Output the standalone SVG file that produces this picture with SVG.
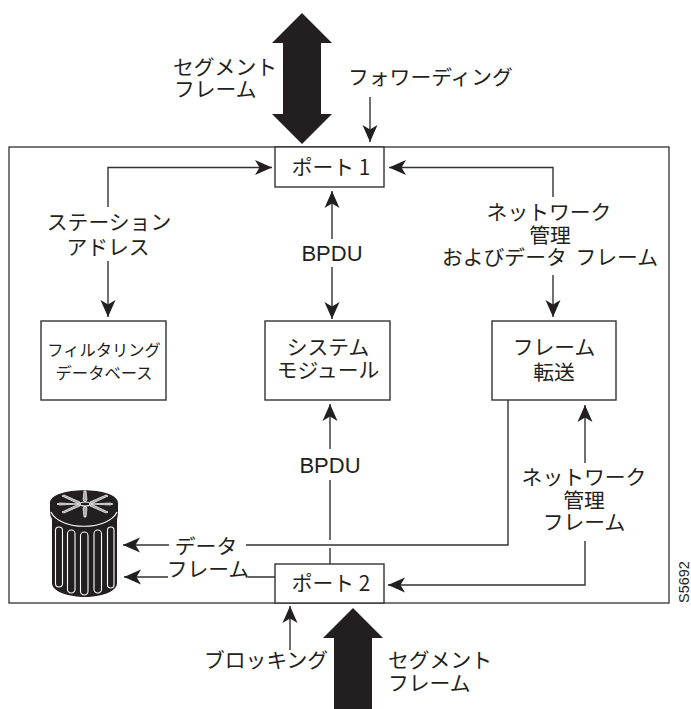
<svg xmlns="http://www.w3.org/2000/svg" width="691" height="709" viewBox="0 0 691 709">
<style>
text{font-family:"Noto Sans CJK JP","Liberation Sans",sans-serif;font-size:20.800px;fill:#231f20;text-anchor:middle}
.l{text-anchor:start}
.s{font-family:"Liberation Sans",sans-serif;font-size:22px}
.m{font-size:16.300px}
.b{fill:#fff;stroke:#333;stroke-width:1.400}
.c{fill:none;stroke:#333;stroke-width:1.400}
.w{fill:none;stroke:#fff;stroke-width:1.100}
.sp{fill:#aaa;stroke:#fff;stroke-width:.7}
.f{fill:#231f20}
</style>
<defs>
<marker id="a" markerUnits="userSpaceOnUse" markerWidth="18" markerHeight="16" refX="17" refY="8" orient="auto"><path d="M0 .5L17 8L0 15.500L4.500 8Z" fill="#231f20"/></marker>
</defs>
<rect id="frame" x="9" y="147" width="660" height="456" fill="none" stroke="#231f20" stroke-width="1.200"/>
<g id="connectors">
<path class="c" d="M370 97V142" marker-end="url(#a)"/>
<path class="c" d="M108 207V167.500H272" marker-end="url(#a)"/>
<path class="c" d="M108 261V317" marker-end="url(#a)"/>
<path class="c" d="M332 239V191" marker-end="url(#a)"/>
<path class="c" d="M332 267V319" marker-end="url(#a)"/>
<path class="c" d="M553 197V167.500H389" marker-end="url(#a)"/>
<path class="c" d="M553 275V317" marker-end="url(#a)"/>
<path class="c" d="M330 449V404" marker-end="url(#a)"/>
<path class="c" d="M330 480V540M330 548V564"/>
<path class="c" d="M508 400V545H246"/>
<path class="c" d="M169 545H123" marker-end="url(#a)"/>
<path class="c" d="M585 463V405" marker-end="url(#a)"/>
<path class="c" d="M585 541V585H388" marker-end="url(#a)"/>
<path class="c" d="M275 577H248M168 577H124" marker-end="url(#a)"/>
<path class="c" d="M290 650V606" marker-end="url(#a)"/>
</g>
<g id="seg-top"><path class="f" d="M302 13L332 43H321V114H332L302 144L272 114H283V43H272Z"/><text x="173" y="75" class="l">セグメント</text><text x="174" y="97" class="l">フレーム</text></g>
<text id="fwd" x="348" y="85" class="l">フォワーディング</text>
<g id="port1"><rect class="b" x="275" y="147" width="109" height="40"/><text x="331" y="175">ポート 1</text></g>
<g id="station"><text x="109" y="230">ステーション</text><text x="108" y="255">アドレス</text></g>
<text id="bpdu1" class="s" x="332" y="261">BPDU</text>
<g id="nm1"><text x="549" y="220">ネットワーク</text><text x="550" y="243">管理</text><text x="550" y="265" word-spacing="4">およびデータ フレーム</text></g>
<g id="filter"><rect class="b" x="41" y="321" width="125" height="79"/><text class="m" x="104" y="356">フィルタリング</text><text class="m" x="104" y="379">データベース</text></g>
<g id="system"><rect class="b" x="265" y="321" width="125" height="79"/><text x="328" y="355">システム</text><text x="328" y="378">モジュール</text></g>
<g id="forward"><rect class="b" x="492" y="321" width="124" height="79"/><text x="554" y="355">フレーム</text><text x="554" y="380">転送</text></g>
<text id="bpdu2" class="s" x="330" y="473">BPDU</text>
<g id="nm2"><text x="584" y="485">ネットワーク</text><text x="584" y="508">管理</text><text x="584" y="530">フレーム</text></g>
<g id="trash">
<path class="f" d="M50 503C50 486 118 486 118 503V511Q118 516 117 519V583C117 592 100 597 85 597C70 597 52 592 52 583V519Q50 516 50 511Z"/>
<path class="w" d="M51 512C60 531 108 531 117 512"/>
<path class="sp" d="M84 491L86 491L87 500L85 502L83 500ZM84 517L86 517L87 508L85 506L83 508ZM62 496L64 495L80 502L79 504ZM108 496L106 495L90 502L91 504ZM62 512L64 513L80 506L79 504ZM108 512L106 513L90 506L91 504ZM57 504L60 503L78 504L60 505ZM113 504L110 503L92 504L110 505Z"/>
<ellipse class="w" cx="85" cy="504" rx="5" ry="2"/>
<rect class="w" x="55.500" y="527" width="7" height="60" rx="3.500"/>
<rect class="w" x="67.500" y="530" width="7.500" height="63" rx="3.700"/>
<rect class="w" x="80.500" y="532" width="7.500" height="63" rx="3.700"/>
<rect class="w" x="94" y="530" width="7.500" height="63" rx="3.700"/>
<rect class="w" x="107.500" y="527" width="6.500" height="61" rx="3.200"/>
</g>
<text id="data" x="206" y="554">データ</text>
<text id="frame-l" x="208" y="577">フレーム</text>
<g id="port2"><rect class="b" x="275" y="564" width="109" height="39"/><text x="331" y="591">ポート 2</text></g>
<text id="block" x="204" y="668" class="l">ブロッキング</text>
<g id="seg-bot"><path class="f" d="M353 608L383 638H372V709H334V638H323Z"/><text x="388" y="668" class="l">セグメント</text><text x="388" y="691" class="l">フレーム</text></g>
<text id="code" transform="translate(689 603) rotate(-90)" style="font-family:'Liberation Sans',sans-serif;font-size:14.500px;text-anchor:start">S5692</text>
</svg>
